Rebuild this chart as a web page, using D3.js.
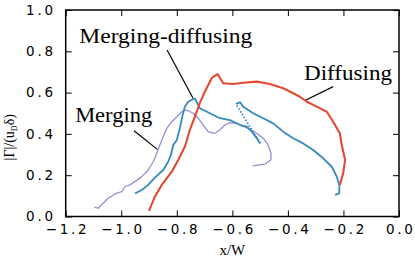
<!DOCTYPE html>
<html>
<head>
<meta charset="utf-8">
<script src="https://cdn.jsdelivr.net/npm/d3@7"></script>
<style>
html,body{margin:0;padding:0;background:#fff;}
svg{display:block;}
</style>
</head>
<body>
<svg id="chart" width="415" height="267"></svg>
<script>
// ---- Data ----
const xTicks = [-1.2, -1.0, -0.8, -0.6, -0.4, -0.2, 0.0];
const yTicks = [0.0, 0.2, 0.4, 0.6, 0.8, 1.0];

const diffusingX = [-0.900,-0.879,-0.854,-0.818,-0.795,-0.771,-0.753,-0.735,-0.717,-0.699,-0.674,-0.653,-0.633,-0.597,-0.561,-0.512,-0.465,-0.417,-0.381,-0.357,-0.332,-0.296,-0.260,-0.237,-0.213,-0.206,-0.194,-0.201,-0.213];
const diffusingY = [0.027,0.096,0.153,0.217,0.274,0.338,0.419,0.483,0.550,0.604,0.671,0.690,0.645,0.642,0.648,0.653,0.642,0.621,0.597,0.580,0.556,0.532,0.507,0.459,0.403,0.346,0.274,0.209,0.153];

const mergDiffX = [-0.950,-0.926,-0.903,-0.879,-0.849,-0.831,-0.821,-0.813,-0.800,-0.789,-0.779,-0.771,-0.759,-0.735,-0.717,-0.681,-0.645,-0.609,-0.572,-0.548,-0.530,-0.512,-0.500];
const mergDiffY = [0.112,0.128,0.153,0.188,0.225,0.265,0.298,0.346,0.370,0.427,0.492,0.532,0.556,0.572,0.524,0.500,0.476,0.467,0.443,0.435,0.411,0.379,0.354];
const mergDiffGapX = [-0.500,-0.587];
const mergDiffGapY = [0.354,0.545];
const mergDiff2X = [-0.587,-0.572,-0.561,-0.525,-0.489,-0.453,-0.417,-0.381,-0.345,-0.309,-0.273,-0.242,-0.224,-0.215,-0.215,-0.230];
const mergDiff2Y = [0.545,0.553,0.532,0.500,0.476,0.451,0.411,0.379,0.354,0.322,0.282,0.241,0.193,0.153,0.112,0.104];

const mergingX = [-1.097,-1.083,-1.065,-1.047,-1.023,-0.998,-0.987,-0.969,-0.951,-0.926,-0.903,-0.885,-0.872,-0.861,-0.849,-0.836,-0.818,-0.800,-0.782,-0.771,-0.759,-0.741,-0.723,-0.705,-0.687,-0.663,-0.645,-0.627,-0.609,-0.584,-0.561,-0.537,-0.512,-0.489,-0.471,-0.461,-0.461,-0.471,-0.483,-0.527];
const mergingY = [0.045,0.040,0.064,0.088,0.109,0.120,0.144,0.153,0.169,0.193,0.225,0.265,0.306,0.346,0.386,0.427,0.459,0.483,0.507,0.516,0.512,0.500,0.476,0.443,0.411,0.403,0.419,0.443,0.454,0.451,0.438,0.422,0.403,0.379,0.346,0.306,0.274,0.265,0.254,0.245];

const labels = ["Merging-diffusing", "Merging", "Diffusing"];

// ---- Layout ----
const W = 415, H = 267;
const margin = {left: 65.7, right: 16, top: 10, bottom: 50.5};
const svg = d3.select("#chart");
const x = d3.scaleLinear().domain([-1.2, 0]).range([margin.left, W - margin.right]);
const y = d3.scaleLinear().domain([0, 1]).range([H - margin.bottom, margin.top]);

const tickFont = "'DejaVu Sans', sans-serif";
const serif = "'Liberation Serif', 'DejaVu Serif', serif";
const fmt = d3.format(".1f");

// axes
const gx = svg.append("g").attr("transform", `translate(0,${y(0)})`)
  .call(d3.axisBottom(x).tickValues(xTicks).tickFormat(fmt).tickSize(-6).tickPadding(7.5));
const gxt = svg.append("g").attr("transform", `translate(0,${y(1)})`)
  .call(d3.axisTop(x).tickValues(xTicks).tickFormat("").tickSize(-6));
const gy = svg.append("g").attr("transform", `translate(${x(-1.2)},0)`)
  .call(d3.axisLeft(y).tickValues(yTicks).tickFormat(fmt).tickSize(-6).tickPadding(10));
const gyr = svg.append("g").attr("transform", `translate(${x(0)},0)`)
  .call(d3.axisRight(y).tickValues(yTicks).tickFormat("").tickSize(-6));
[gx, gxt, gy, gyr].forEach(g => {
  g.select(".domain").remove();
  g.selectAll(".tick line").attr("stroke", "#000").attr("stroke-width", 1);
  g.selectAll(".tick text").attr("fill", "#000").style("font-family", tickFont)
    .style("font-size", "13.5px").style("letter-spacing", "2.7px");
});
gx.selectAll(".tick text").attr("dx", "1.3px");

// frame
svg.append("rect").attr("x", x(-1.2)).attr("y", y(1))
  .attr("width", x(0) - x(-1.2)).attr("height", y(0) - y(1))
  .attr("fill", "none").attr("stroke", "#000").attr("stroke-width", 1.5);

// lines
const line = d3.line().x(d => x(d[0])).y(d => y(d[1]));
function draw(xs, ys, color, w, dash) {
  const p = svg.append("path").datum(d3.zip(xs, ys)).attr("d", line)
    .attr("fill", "none").attr("stroke", color).attr("stroke-width", w)
    .attr("stroke-linejoin", "round");
  if (dash) p.attr("stroke-dasharray", dash);
}
draw(mergingX, mergingY, "#988ED5", 1.3);
draw(mergDiffX, mergDiffY, "#348ABD", 1.8);
draw(mergDiffGapX, mergDiffGapY, "#348ABD", 1.8, "1.5,1.8");
draw(mergDiff2X, mergDiff2Y, "#348ABD", 1.8);
draw(diffusingX, diffusingY, "#E24A33", 2.1);

// annotations
const ann = [
  {t: labels[0], tx: -1.151, ty: 0.842, len: 173, l: [[-0.835, 0.806], [-0.742, 0.574]]},
  {t: labels[1], tx: -1.166, ty: 0.456, len: 77, l: [[-0.954, 0.415], [-0.870, 0.325]]},
  {t: labels[2], tx: -0.342, ty: 0.661, len: 88, l: [[-0.237, 0.629], [-0.335, 0.564]]}
];
ann.forEach(a => {
  svg.append("line").attr("x1", x(a.l[0][0])).attr("y1", y(a.l[0][1]))
    .attr("x2", x(a.l[1][0])).attr("y2", y(a.l[1][1]))
    .attr("stroke", "#000").attr("stroke-width", 1.2);
  svg.append("text").attr("x", x(a.tx)).attr("y", y(a.ty))
    .attr("textLength", a.len).attr("lengthAdjust", "spacingAndGlyphs")
    .style("font-family", serif).style("font-size", "21px").text(a.t);
});

// axis labels
svg.append("text").attr("x", (x(-1.2) + x(0)) / 2).attr("y", 255)
  .attr("text-anchor", "middle").style("font-family", serif).style("font-size", "15px").text("x/W");
const yl = svg.append("text").attr("transform", `translate(14,${(y(0) + y(1)) / 2 + 24}) rotate(-90)`)
  .attr("text-anchor", "middle").style("font-family", serif).style("font-size", "14px");
yl.append("tspan").text("|Γ|/(u");
yl.append("tspan").attr("dy", "3").style("font-size", "8px").text("D");
yl.append("tspan").attr("dy", "-3").text("δ)");
</script>
</body>
</html>
